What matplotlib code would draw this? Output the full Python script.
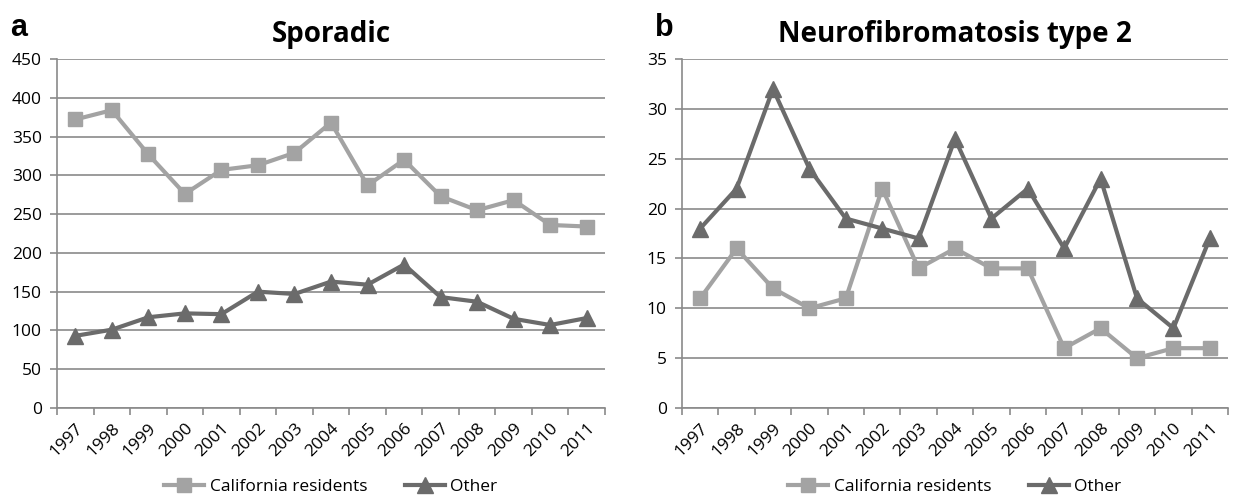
import matplotlib
matplotlib.use("Agg")
import matplotlib.pyplot as plt
import numpy as np

years = [str(y) for y in range(1997, 2012)]

sporadic_ca = [372, 384, 327, 276, 307, 313, 329, 368, 287, 320, 273, 255, 268, 236, 234]
sporadic_other = [93, 101, 117, 122, 121, 150, 147, 163, 159, 185, 143, 137, 115, 107, 116]

nf2_ca = [11, 16, 12, 10, 11, 22, 14, 16, 14, 14, 6, 8, 5, 6, 6]
nf2_other = [18, 22, 32, 24, 19, 18, 17, 27, 19, 22, 16, 23, 11, 8, 17]

CA_COLOR = "#a3a3a3"
OTHER_COLOR = "#6b6b6b"
GRID = "#8a8a8a"

plt.rcParams["font.family"] = ["Open Sans", "DejaVu Sans"]

fig = plt.figure(figsize=(12.42, 4.98), dpi=100, facecolor="white")
ax_a = fig.add_axes([57 / 1242, 1 - 408 / 498, (605 - 57) / 1242, (408 - 59) / 498])
ax_b = fig.add_axes([682 / 1242, 1 - 408 / 498, (1228 - 682) / 1242, (408 - 59) / 498])


def draw(ax, ca, other, ymax, ystep, title, letter, letter_x):
    x = np.arange(len(years))
    ax.plot(x, ca, color=CA_COLOR, lw=3, marker="s", ms=10, mec=CA_COLOR,
            label="California residents", zorder=3)
    ax.plot(x, other, color=OTHER_COLOR, lw=3, marker="^", ms=11, mec=OTHER_COLOR,
            label="Other", zorder=4)
    ax.set_xlim(-0.5, len(years) - 0.5)
    ax.set_ylim(0, ymax)
    ax.set_yticks(np.arange(0, ymax + 1, ystep))
    ax.yaxis.grid(True, color=GRID, lw=1.2)
    ax.set_axisbelow(True)
    ax.set_xticks(x)
    ax.set_xticklabels(years, rotation=45, ha="right", rotation_mode="anchor", fontsize=12.5)
    ax.set_xticks(np.arange(-0.5, len(years), 1), minor=True)
    ax.tick_params(axis="x", which="major", length=0, pad=9)
    ax.tick_params(axis="x", which="minor", length=5, color=GRID, width=1.2)
    ax.tick_params(axis="y", length=5, color=GRID, width=1.2, labelsize=12.5, pad=6)
    for side in ("top", "right"):
        ax.spines[side].set_visible(False)
    for side in ("left", "bottom"):
        ax.spines[side].set_color(GRID)
        ax.spines[side].set_linewidth(1.2)
    ax.set_title(title, fontsize=20, fontweight="bold", pad=12)
    fig.text(letter_x, 1 - 36 / 498, letter, fontsize=22, fontweight="bold",
             family=["Liberation Sans", "DejaVu Sans"])
    ax.legend(loc="center", bbox_to_anchor=(0.5, -0.226), ncol=2, frameon=False,
              fontsize=12.5, handlelength=2.3, handletextpad=0.3, columnspacing=2.2)


draw(ax_a, sporadic_ca, sporadic_other, 450, 50, "Sporadic", "a", 10 / 1242)
draw(ax_b, nf2_ca, nf2_other, 35, 5, "Neurofibromatosis type 2", "b", 655 / 1242)

fig.savefig("out.png", dpi=100, facecolor="white")
